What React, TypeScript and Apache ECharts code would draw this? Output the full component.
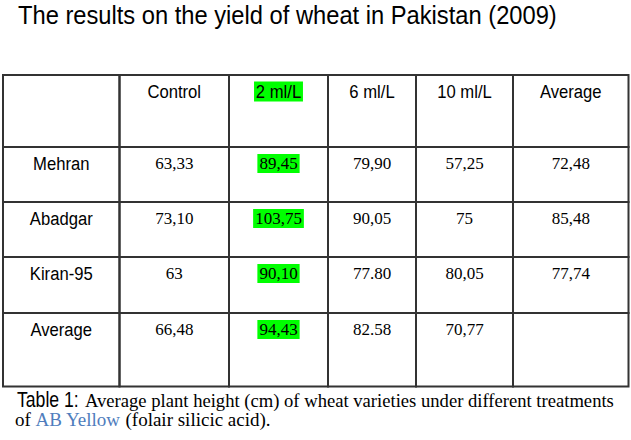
import React, { useEffect, useRef } from "react";
import * as echarts from "echarts";

const titleText = "The results on the yield of wheat in Pakistan (2009)";
const treatments = ["Control", "2 ml/L", "6 ml/L", "10 ml/L", "Average"];
const varieties = ["Mehran", "Abadgar", "Kiran-95", "Average"];
const controlValues = ["63,33", "73,10", "63", "66,48"];
const ml2Values = ["89,45", "103,75", "90,10", "94,43"];
const ml6Values = ["79,90", "90,05", "77.80", "82.58"];
const ml10Values = ["57,25", "75", "80,05", "70,77"];
const averageValues = ["72,48", "85,48", "77,74", ""];
const highlightedTreatment = "2 ml/L";
const captionLabel = "Table 1:";
const captionLine1 = "Average plant height (cm) of wheat varieties under different treatments";
const captionLine2Start = "of ";
const captionProduct = "AB Yellow";
const captionLine2End = " (folair silicic acid).";

// layout (pixels relative to the table grid)
const colEdges = [0, 116.5, 226, 325, 413, 510, 625.5];
const rowEdges = [0, 72, 127, 182, 238, 311.5];
const TABLE_W = 625.5;
const TABLE_H = 311.5;

const SANS = "'Liberation Sans', Arial, sans-serif";
const SERIF = "'Liberation Serif', 'Times New Roman', serif";
const GREEN = "#00ff00";

type Cell = { c: number; r: number; text: string; kind: "sans" | "serif"; hl: boolean };

function buildCells(): Cell[] {
  const cols = [controlValues, ml2Values, ml6Values, ml10Values, averageValues];
  const cells: Cell[] = [];
  cells.push({ c: 0, r: 0, text: "", kind: "sans", hl: false });
  treatments.forEach((t, i) =>
    cells.push({ c: i + 1, r: 0, text: t, kind: "sans", hl: t === highlightedTreatment })
  );
  varieties.forEach((v, ri) => {
    cells.push({ c: 0, r: ri + 1, text: v, kind: "sans", hl: false });
    cols.forEach((col, ci) =>
      cells.push({
        c: ci + 1,
        r: ri + 1,
        text: col[ri],
        kind: "serif",
        hl: treatments[ci] === highlightedTreatment && col[ri] !== "",
      })
    );
  });
  return cells;
}

export default function App() {
  const ref = useRef<HTMLDivElement>(null);
  useEffect(() => {
    if (!ref.current) return;
    const chart = echarts.init(ref.current, undefined, { renderer: "svg" });
    const cells = buildCells();
    chart.setOption({
      animation: false,
      backgroundColor: "#ffffff",
      grid: { left: 3, top: 75, width: TABLE_W, height: TABLE_H },
      xAxis: { type: "value", min: 0, max: TABLE_W, show: false },
      yAxis: { type: "value", min: 0, max: TABLE_H, inverse: true, show: false },
      graphic: [
        {
          type: "text",
          x: 18,
          y: 14.5,
          scaleX: 0.895,
          style: {
            text: titleText,
            fontFamily: SANS,
            fontSize: 26.5,
            fill: "#000",
            align: "left",
            verticalAlign: "middle",
          },
        },
        {
          type: "text",
          x: 17,
          y: 399,
          scaleX: 0.82,
          style: {
            text: captionLabel,
            fontFamily: SANS,
            fontSize: 21.5,
            lineHeight: 18,
            fill: "#000",
            align: "left",
            verticalAlign: "middle",
          },
        },
        {
          type: "text",
          x: 85,
          y: 400,
          scaleX: 0.98,
          style: {
            text: captionLine1,
            fontFamily: SERIF,
            fontSize: 19,
            lineHeight: 18,
            fill: "#000",
            align: "left",
            verticalAlign: "middle",
          },
        },
        {
          type: "text",
          x: 15,
          y: 419,
          style: {
            text: captionLine2Start + "{b|" + captionProduct + "}" + captionLine2End,
            fontFamily: SERIF,
            fontSize: 19,
            lineHeight: 18,
            fill: "#000",
            align: "left",
            verticalAlign: "middle",
            rich: { b: { fill: "#4f7dbd", fontFamily: SERIF, fontSize: 19, lineHeight: 18 } },
          },
        },
      ],
      series: [
        {
          type: "custom",
          clip: false,
          data: cells.map((d) => [d.c, d.r]),
          renderItem: (params: any, api: any) => {
            const cell = cells[params.dataIndex];
            const p0 = api.coord([colEdges[cell.c], rowEdges[cell.r]]);
            const p1 = api.coord([colEdges[cell.c + 1], rowEdges[cell.r + 1]]);
            const cx = (p0[0] + p1[0]) / 2;
            const children: any[] = [
              {
                type: "rect",
                shape: { x: p0[0], y: p0[1], width: p1[0] - p0[0], height: p1[1] - p0[1] },
                style: { fill: "none", stroke: "#333333", lineWidth: 2 },
              },
            ];
            if (cell.text) {
              const sans = cell.kind === "sans";
              children.push({
                type: "text",
                x: cx,
                y: p0[1] + 16.5,
                scaleX: sans ? 0.9 : 1,
                style: {
                  text: cell.text,
                  fontFamily: sans ? SANS : SERIF,
                  fontSize: sans ? 18.5 : 17,
                  lineHeight: sans ? 18 : 17,
                  fill: "#000",
                  align: "center",
                  verticalAlign: "middle",
                  backgroundColor: cell.hl ? GREEN : undefined,
                  padding: cell.hl ? [1, 2, 1, 2] : 0,
                },
              });
            }
            return { type: "group", children };
          },
        },
      ],
    });
    return () => chart.dispose();
  }, []);
  return (
    <div
      ref={ref}
      style={{ position: "fixed", left: 0, top: 0, width: 631, height: 440 }}
    />
  );
}
